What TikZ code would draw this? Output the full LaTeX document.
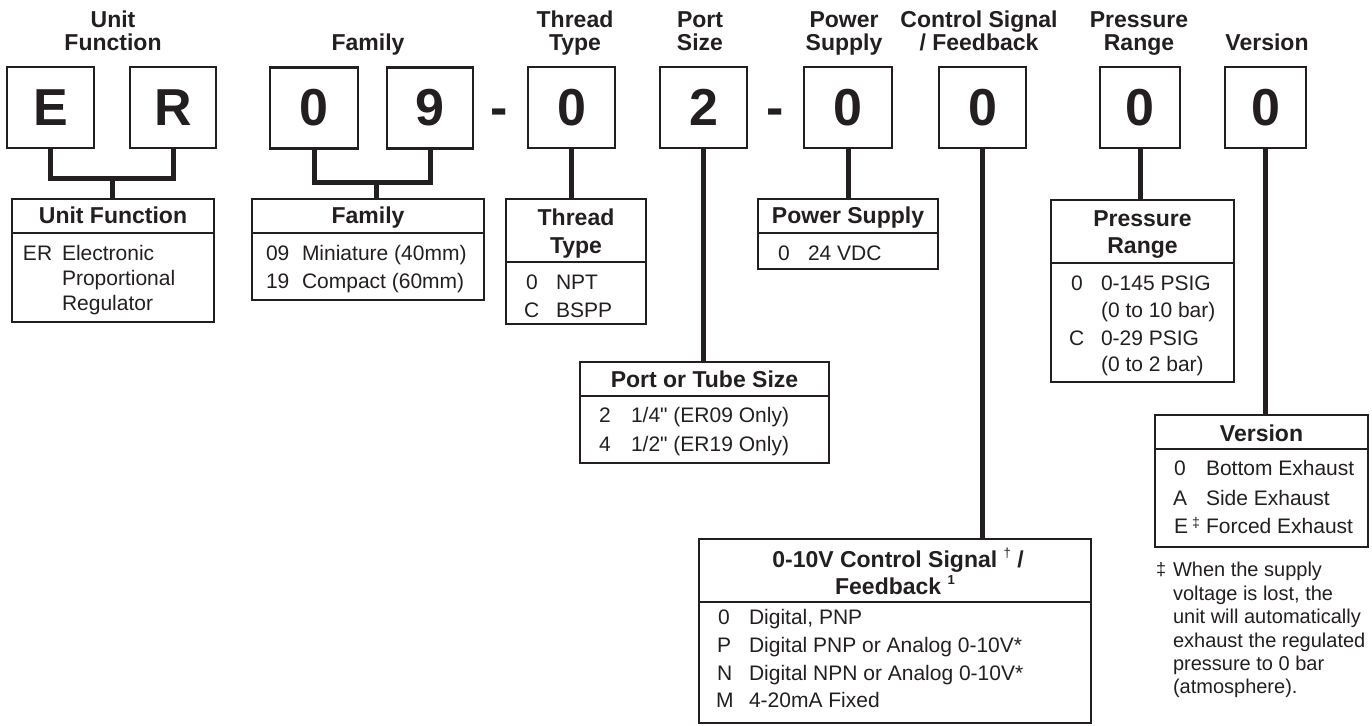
\documentclass[tikz,border=0pt]{standalone}
\usepackage{fontspec}
\setmainfont{Liberation Sans}
\definecolor{ink}{HTML}{231F20}
\begin{document}
\begin{tikzpicture}[x=1pt,y=-1pt,
  every node/.style={text=ink, inner sep=0pt, outer sep=0pt},
  codebox/.style={draw=ink, line width=2.5pt, minimum height=81pt, font=\fontsize{52}{52}\bfseries\selectfont},
  hdr/.style={anchor=base, font=\fontsize{23}{23}\bfseries\selectfont},
  optbox/.style={draw=ink, line width=2.5pt, anchor=north west},
  ttl/.style={anchor=base, font=\fontsize{23}{23}\bfseries\selectfont},
  itm/.style={anchor=base west, font=\fontsize{21}{21}\selectfont},
  note/.style={anchor=base west, font=\fontsize{20}{20}\selectfont},
  conn/.style={draw=ink, line width=5pt, line join=miter},
  divider/.style={draw=ink, line width=2pt}]
\useasboundingbox (0,0) rectangle (1372,725);

% ---------- headers ----------
\node[hdr] (h1a) at (113,28) {Unit};
\node[hdr] (h1b) at (113,51) {Function};
\node[hdr] (h2) at (368,51) {Family};
\node[hdr] (h3a) at (575,28) {Thread};
\node[hdr] (h3b) at (575,51) {Type};
\node[hdr] (h4a) at (700,28) {Port};
\node[hdr] (h4b) at (700,51) {Size};
\node[hdr] (h5a) at (844,28) {Power};
\node[hdr] (h5b) at (844,51) {Supply};
\node[hdr] (h6a) at (979,28) {Control Signal};
\node[hdr] (h6b) at (979,51) {/ Feedback};
\node[hdr] (h7a) at (1139,28) {Pressure};
\node[hdr] (h7b) at (1139,51) {Range};
\node[hdr] (h8) at (1267,51) {Version};

% ---------- code boxes ----------
\node[codebox, minimum width=87pt] (cE) at (50.5,107.5) {E};
\node[codebox, minimum width=86pt] (cR) at (173,107.5) {R};
\node[codebox, minimum width=88pt] (cF0) at (314,108) {0};
\node[codebox, minimum width=86pt] (cF9) at (430,108) {9};
\node[codebox, minimum width=87pt] (cThr) at (571.5,107.5) {0};
\node[codebox, minimum width=87pt] (cPort) at (703.5,107.5) {2};
\node[codebox, minimum width=88pt] (cPow) at (848,107.5) {0};
\node[codebox, minimum width=87pt] (cCtl) at (982.5,107.5) {0};
\node[codebox, minimum width=80pt] (cPr) at (1140,107.5) {0};
\node[codebox, minimum width=81pt] (cVer) at (1265.5,107.5) {0};
\node[anchor=base, font=\fontsize{52}{52}\bfseries\selectfont] (d1) at (499,125) {-};
\node[anchor=base, font=\fontsize{52}{52}\bfseries\selectfont] (d2) at (775,125) {-};

% ---------- option boxes ----------
\node[optbox, minimum width=202pt, minimum height=123pt] (bUF) at (12,199) {};
\node[optbox, minimum width=232pt, minimum height=101pt] (bFam) at (252,199) {};
\node[optbox, minimum width=140pt, minimum height=125pt] (bThr) at (506,199) {};
\node[optbox, minimum width=180pt, minimum height=70pt] (bPow) at (758,199) {};
\node[optbox, minimum width=249pt, minimum height=101pt] (bPort) at (580,362) {};
\node[optbox, minimum width=183pt, minimum height=182pt] (bPr) at (1051,200) {};
\node[optbox, minimum width=213pt, minimum height=132pt] (bVer) at (1155,415) {};
\node[optbox, minimum width=392pt, minimum height=184pt] (bCtl) at (699,539) {};

% dividers
\draw[divider] (bUF.west |- 0,233) -- (bUF.east |- 0,233);
\draw[divider] (bFam.west |- 0,233) -- (bFam.east |- 0,233);
\draw[divider] (bThr.west |- 0,262) -- (bThr.east |- 0,262);
\draw[divider] (bPow.west |- 0,233) -- (bPow.east |- 0,233);
\draw[divider] (bPort.west |- 0,396) -- (bPort.east |- 0,396);
\draw[divider] (bPr.west |- 0,263) -- (bPr.east |- 0,263);
\draw[divider] (bVer.west |- 0,449) -- (bVer.east |- 0,449);
\draw[divider] (bCtl.west |- 0,602) -- (bCtl.east |- 0,602);

% ---------- connectors ----------
\coordinate (jUF) at (112,178);
\draw[conn] (cE.south) -- (cE.south |- jUF) -- (cR.south |- jUF) -- (cR.south);
\draw[conn] (jUF) -- (jUF |- bUF.north);
\coordinate (jFam) at (376,182);
\draw[conn] (cF0.south) -- (cF0.south |- jFam) -- (cF9.south |- jFam) -- (cF9.south);
\draw[conn] (jFam) -- (jFam |- bFam.north);
\draw[conn] (cThr.south) -- (cThr.south |- bThr.north);
\draw[conn] (cPort.south) -- (cPort.south |- bPort.north);
\draw[conn] (cPow.south) -- (cPow.south |- bPow.north);
\draw[conn] (cCtl.south) -- (cCtl.south |- bCtl.north);
\draw[conn] (cPr.south) -- (cPr.south |- bPr.north);
\draw[conn] (cVer.south) -- (cVer.south |- bVer.north);

% ---------- Unit Function ----------
\node[ttl] (tUF) at (113,223) {Unit Function};
\node[itm] (uf1) at (23,260) {ER};
\node[itm] (uf2) at (62,260) {Electronic};
\node[itm] (uf3) at (62,285) {Proportional};
\node[itm] (uf4) at (62,310) {Regulator};

% ---------- Family ----------
\node[ttl] (tFam) at (368,223) {Family};
\node[itm] (fa1) at (266,260) {09};
\node[itm] (fa2) at (302,260) {Miniature (40mm)};
\node[itm] (fa3) at (266,288) {19};
\node[itm] (fa4) at (302,288) {Compact (60mm)};

% ---------- Thread Type ----------
\node[ttl] (tThrA) at (576,225) {Thread};
\node[ttl] (tThrB) at (576,253) {Type};
\node[itm] (th1) at (526,289) {0};
\node[itm] (th2) at (556,289) {NPT};
\node[itm] (th3) at (524,317) {C};
\node[itm] (th4) at (556,317) {BSPP};

% ---------- Power Supply ----------
\node[ttl] (tPow) at (848,223) {Power Supply};
\node[itm] (pw1) at (778,260) {0};
\node[itm] (pw2) at (808,260) {24 VDC};

% ---------- Port or Tube Size ----------
\node[ttl] (tPort) at (704.5,387) {Port or Tube Size};
\node[itm] (po1) at (599,422) {2};
\node[itm] (po2) at (631,422) {1/4\textquotedbl{} (ER09 Only)};
\node[itm] (po3) at (599,451) {4};
\node[itm] (po4) at (631,451) {1/2\textquotedbl{} (ER19 Only)};

% ---------- Pressure Range ----------
\node[ttl] (tPrA) at (1142.5,226) {Pressure};
\node[ttl] (tPrB) at (1142.5,253) {Range};
\node[itm] (pr1) at (1071,290) {0};
\node[itm] (pr2) at (1101,290) {0-145 PSIG};
\node[itm] (pr3) at (1101,317) {(0 to 10 bar)};
\node[itm] (pr4) at (1069,345) {C};
\node[itm] (pr5) at (1101,345) {0-29 PSIG};
\node[itm] (pr6) at (1101,371) {(0 to 2 bar)};

% ---------- Version ----------
\node[ttl] (tVer) at (1261.5,441) {Version};
\node[itm] (ve1) at (1174,475) {0};
\node[itm] (ve2) at (1206,475) {Bottom Exhaust};
\node[itm] (ve3) at (1173,505) {A};
\node[itm] (ve4) at (1206,505) {Side Exhaust};
\node[itm] (ve5) at (1174,533) {E};
\node[itm, font=\fontsize{14}{14}\selectfont] (ve6) at (1192,527) {‡};
\node[itm] (ve7) at (1206,533) {Forced Exhaust};

\node[note, font=\fontsize{18}{18}\selectfont] (fn0) at (1156,575) {‡};
\node[note] (fn1) at (1173,576) {When the supply};
\node[note] (fn2) at (1173,600) {voltage is lost, the};
\node[note] (fn3) at (1173,623) {unit will automatically};
\node[note] (fn4) at (1173,647) {exhaust the regulated};
\node[note] (fn5) at (1173,670) {pressure to 0 bar};
\node[note] (fn6) at (1173,693) {(atmosphere).};

% ---------- Control Signal ----------
\node[ttl] (tCtlA) at (898,567) {0-10V Control Signal \raisebox{0.42em}{\fontsize{13}{13}\mdseries\selectfont †} /};
\node[ttl] (tCtlB) at (895,594) {Feedback \raisebox{0.42em}{\fontsize{13}{13}\selectfont 1}};
\node[itm] (ct1) at (718,624) {0};
\node[itm] (ct2) at (749,624) {Digital, PNP};
\node[itm] (ct3) at (717,652) {P};
\node[itm] (ct4) at (749,652) {Digital PNP or Analog 0-10V*};
\node[itm] (ct5) at (717,680) {N};
\node[itm] (ct6) at (749,680) {Digital NPN or Analog 0-10V*};
\node[itm] (ct7) at (716,707) {M};
\node[itm] (ct8) at (749,707) {4-20mA Fixed};
\end{tikzpicture}
\end{document}
